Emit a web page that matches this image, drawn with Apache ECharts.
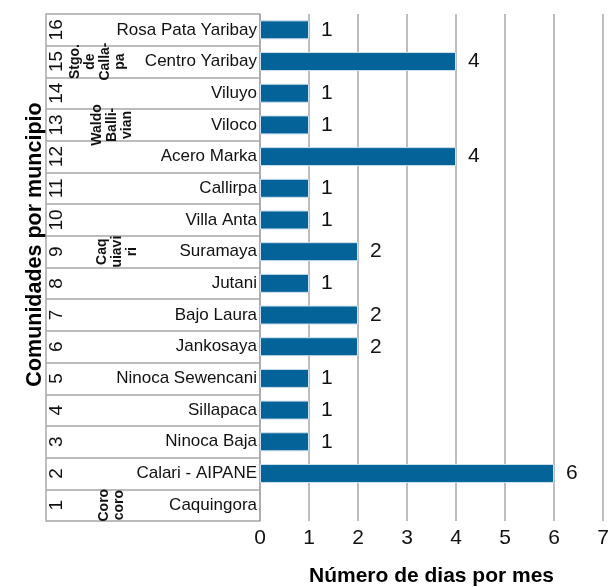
<!DOCTYPE html>
<html>
<head>
<meta charset="utf-8">
<script src="https://cdn.jsdelivr.net/npm/echarts@6/dist/echarts.min.js"></script>
<style>
  html, body { margin: 0; padding: 0; background: #fff; }
  #chart { width: 616px; height: 587px; }
</style>
</head>
<body>
<div id="chart"></div>
<script>
// Communities listed bottom (1) to top (16)
const rowNumbers = ['1','2','3','4','5','6','7','8','9','10','11','12','13','14','15','16'];
const communities = [
  'Caquingora', 'Calari - AIPANE', 'Ninoca Baja', 'Sillapaca', 'Ninoca Sewencani',
  'Jankosaya', 'Bajo Laura', 'Jutani', 'Suramaya', 'Villa Anta', 'Callirpa',
  'Acero Marka', 'Viloco', 'Viluyo', 'Centro Yaribay', 'Rosa Pata Yaribay'
];
// Days per month (Caquingora has no recorded value)
const daysPerMonth = [null, 6, 1, 1, 1, 2, 2, 1, 2, 1, 1, 4, 1, 1, 4, 1];
// Municipality labels and the row each one is written on
const municipalities = ['Coro\ncoro', 'Caq\nuiavi\nri', 'Waldo\nBalli-\nvian', 'Stgo.\nde\nCalla-\npa'];
const municipalityRows = [0, 8, 12, 14];
const xTicks = [0, 1, 2, 3, 4, 5, 6, 7];

const FONT = "'Liberation Sans', Arial, sans-serif";
const GRAY = '#a7a7ab';
const TABLE_OFFSET = 214;
const groupMargins = [51, 49, 44, 22];

const yAxes = [
  {
    type: 'category', data: communities, position: 'left',
    axisLine: { show: true, lineStyle: { color: GRAY, width: 1.5 } },
    axisTick: { show: true, length: TABLE_OFFSET, lineStyle: { color: GRAY, width: 1.5 } },
    axisLabel: { inside: false, margin: 3, fontFamily: FONT, fontSize: 17, color: '#111' },
    splitLine: { show: false }
  },
  {
    type: 'category', data: rowNumbers, position: 'left', offset: TABLE_OFFSET,
    axisLine: { show: true, lineStyle: { color: GRAY, width: 1.5 } },
    axisTick: { show: false },
    axisLabel: { inside: true, rotate: 90, margin: 1, fontFamily: FONT, fontSize: 19, color: '#111' },
    name: 'Comunidades por muncipio', nameLocation: 'middle', nameRotate: 90, nameGap: 0,
    nameMoveOverlap: false,
    // extra padding at the start of the text lifts the title slightly above centre
    nameTextStyle: { fontFamily: FONT, fontSize: 21.5, fontWeight: 'bold', color: '#000', padding: [0, 0, 0, 46] }
  }
];
municipalities.forEach((label, g) => {
  yAxes.push({
    type: 'category', data: communities, position: 'left', offset: TABLE_OFFSET,
    axisLine: { show: false }, axisTick: { show: false },
    axisLabel: {
      inside: true, rotate: 90, margin: groupMargins[g], interval: 0,
      fontFamily: FONT, fontSize: 14, fontWeight: 'bold', lineHeight: 15, color: '#111',
      formatter: (v, i) => (i === municipalityRows[g] ? label : '')
    }
  });
});

const chart = echarts.init(document.getElementById('chart'), null, { renderer: 'canvas' });
chart.setOption({
  animation: false,
  backgroundColor: '#fff',
  grid: { left: 260, right: 13, top: 14, bottom: 66, containLabel: false, outerBoundsMode: 'none' },
  xAxis: {
    type: 'value', min: xTicks[0], max: xTicks[xTicks.length - 1], interval: 1,
    axisLine: { show: false }, axisTick: { show: false },
    splitLine: { show: true, lineStyle: { color: GRAY, width: 1.5 } },
    axisLabel: { margin: 7, fontFamily: FONT, fontSize: 21, color: '#111' },
    name: 'Número de dias por mes', nameLocation: 'middle', nameGap: 45,
    nameTextStyle: { fontFamily: FONT, fontSize: 21, fontWeight: 'bold', color: '#000' }
  },
  yAxis: yAxes,
  series: [{
    type: 'bar', yAxisIndex: 0, data: daysPerMonth, barWidth: 19,
    itemStyle: { color: '#04649a', borderColor: '#cfe0ec', borderWidth: 1 },
    label: {
      show: true, position: 'right', distance: 12,
      fontFamily: FONT, fontSize: 21, color: '#111'
    }
  }]
});
</script>
</body>
</html>
